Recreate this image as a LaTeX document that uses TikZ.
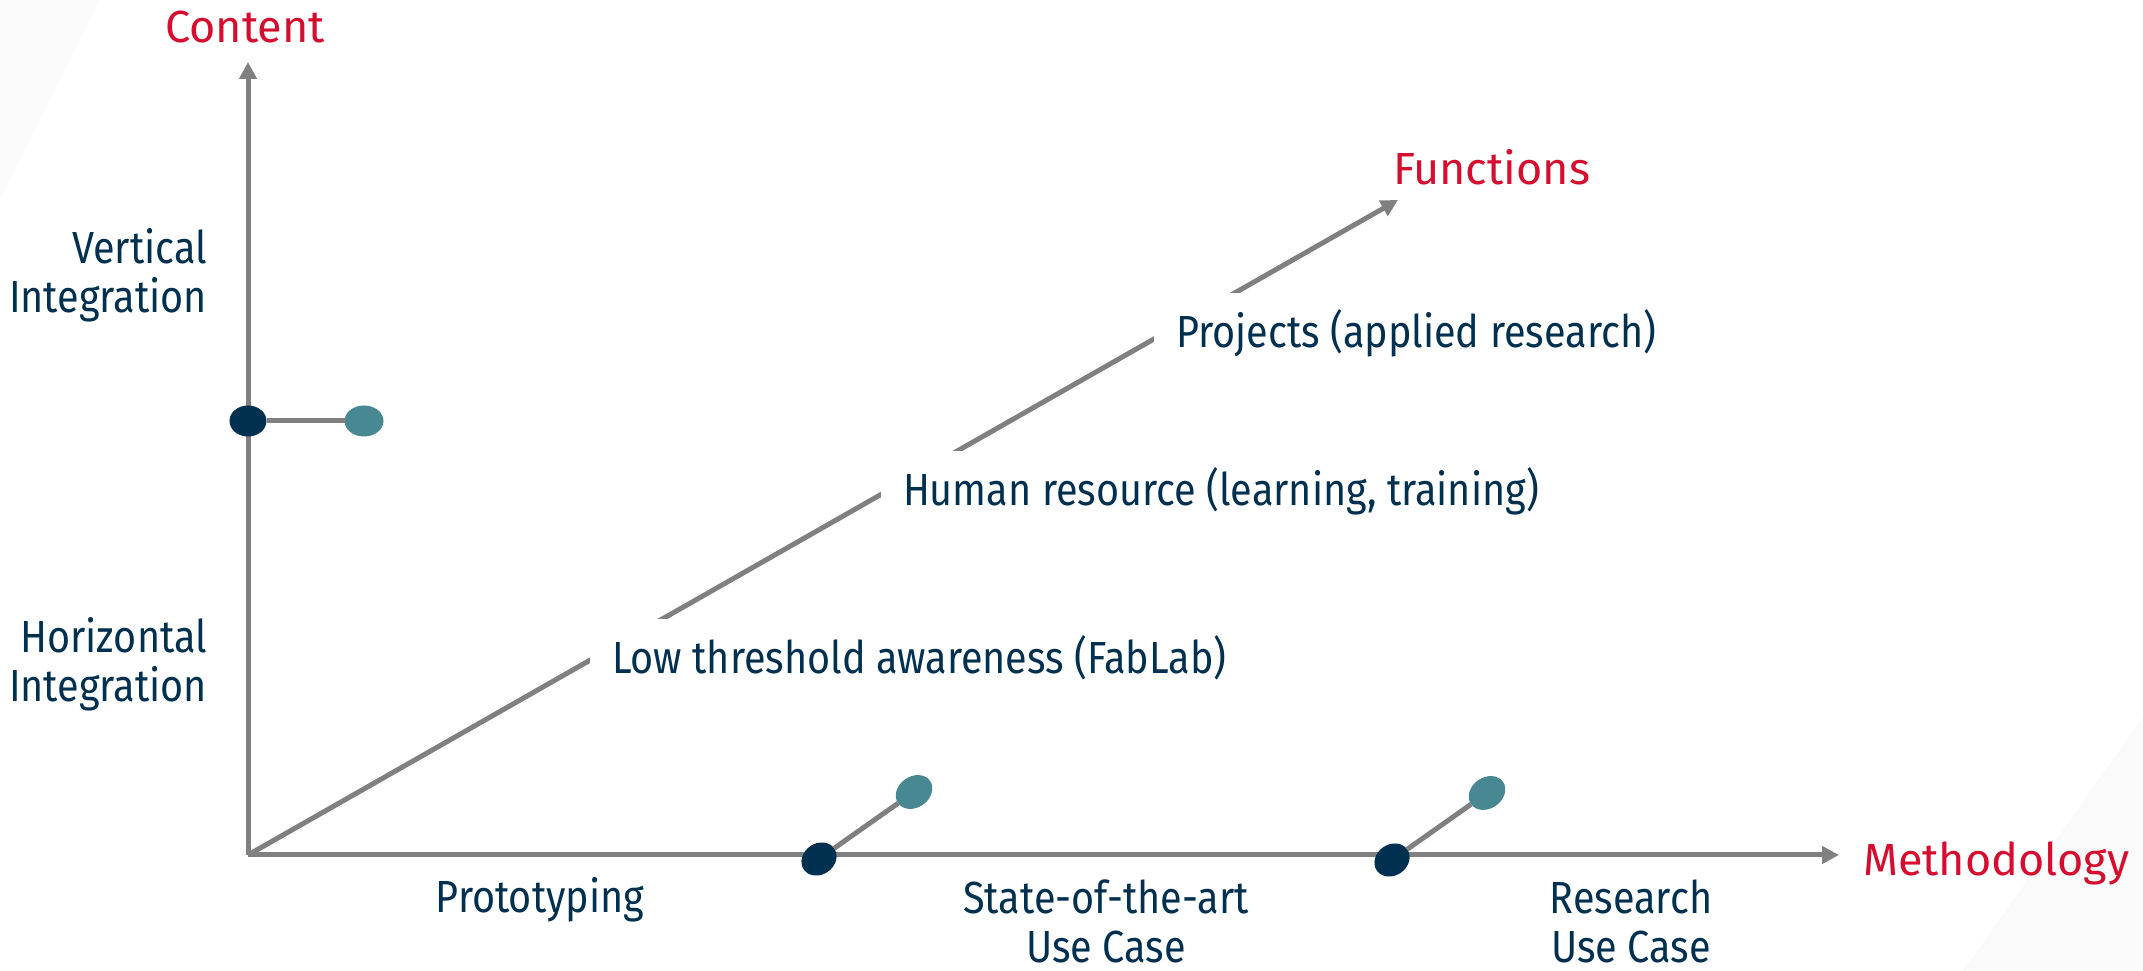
\documentclass[tikz,border=0pt]{standalone}
\usepackage{fontspec}
\setmainfont{Fira Sans}
\newfontfamily\narrowsans[FakeStretch=0.88]{Fira Sans}
\usetikzlibrary{arrows.meta,shapes.geometric}

\definecolor{fhred}{HTML}{D50D2E}
\definecolor{fhnavy}{HTML}{00304F}
\definecolor{fhteal}{HTML}{478892}
\definecolor{axisgray}{HTML}{808080}

\begin{document}
\begin{tikzpicture}
\tikzset{ >={Triangle[length=1.7mm, width=1.7mm]}, inner sep=0pt, outer sep=0pt,
  axisline/.style={axisgray, line width=0.5mm},
  axislabel/.style={fhred, font=\fontsize{12.8}{14.2}\selectfont},
  labeltext/.style={fhnavy, font=\narrowsans\fontsize{12.8}{14.2}\selectfont, align=center},
  funcbox/.style={labeltext, fill=white, inner xsep=2.2mm, inner ysep=1.7mm, anchor=base west},
  darkdot/.style={ellipse, fill=fhnavy, minimum width=3.7mm, minimum height=3.1mm},
  tealdot/.style={ellipse, fill=fhteal, minimum width=3.9mm, minimum height=3.1mm},
}

\useasboundingbox (0,0) rectangle (21.43,9.71);
%\draw [lightgray, dashed](0,0) grid (21,9);

\fill [black!2] (0,9.71) -- (1.0,9.71) -- (0,7.71) -- cycle;
\fill [black!2] (19.63,0) -- (21.43,2.54) -- (21.43,0) -- cycle;

\coordinate (O) at (2.48,1.16);
\coordinate (C) at (2.48,9.09);
\coordinate (M) at (18.39,1.16);
\coordinate (F) at (13.98,7.71);

\draw [->, axisline] (O) -- (C);
\draw [->, axisline] (O) -- (M);
\draw [->, axisline] (O) -- (F);

\node [axislabel, anchor=base]      (content)   at (2.45,9.28)  {Content};
\node [axislabel, anchor=base west] (functions) at (13.93,7.86) {Functions};
\node [axislabel, anchor=base west] (method)    at (18.63,0.95) {Methodology};

% base of a two-line node = last line
\node [labeltext, align=right, anchor=base east] (vert)  at (2.07,6.58) {Vertical\\Integration};
\node [labeltext, align=right, anchor=base east] (horiz) at (2.07,2.69) {Horizontal\\Integration};

\node [labeltext, anchor=base] (proto)    at (5.40,0.58)  {Prototyping};
\node [labeltext, anchor=base] (sota)     at (11.06,0.08) {State-of-the-art\\Use Case};
\node [labeltext, anchor=base] (research) at (16.31,0.08) {Research\\Use Case};

\node [funcbox] (low)      at (5.90,2.97)  {Low threshold awareness (FabLab)};
\node [funcbox] (human)    at (8.81,4.65)  {Human resource (learning, training)};
\node [funcbox] (projects) at (11.54,6.23) {Projects (applied research)};

\node [darkdot]           (v1) at (2.48,5.50) {};
\node [tealdot]           (v2) at (3.64,5.50) {};
\node [darkdot, rotate=35] (s1) at (8.19,1.12) {};
\node [tealdot, rotate=35] (s2) at (9.14,1.79) {};
\node [darkdot, rotate=35] (r1) at (13.92,1.11) {};
\node [tealdot, rotate=35] (r2) at (14.87,1.78) {};

\draw [axisline] (v1) -- (v2);
\draw [axisline] (s1) -- (s2);
\draw [axisline] (r1) -- (r2);

\end{tikzpicture}
\end{document}
